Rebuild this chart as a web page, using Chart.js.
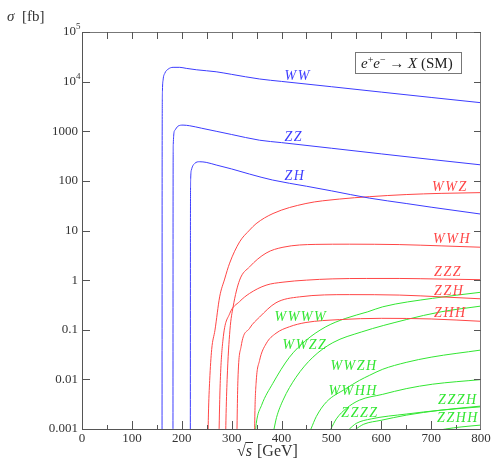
<!DOCTYPE html>
<html>
<head>
<meta charset="utf-8">
<script src="https://cdn.jsdelivr.net/npm/chart.js@4.4.1/dist/chart.umd.min.js"></script>
<style>
html, body { margin: 0; padding: 0; background: #fff; }
</style>
</head>
<body>
<canvas id="graficaSigma" width="492" height="461"></canvas>
<script>
// sqrt(s) in GeV, sigma in fb
const sqrtsWW  = [160.5, 160.7, 161.3, 162.6, 166, 172.6, 182.6, 196, 209, 230, 269, 300, 356, 400, 500, 600, 700, 800];
const sigmaWW  = [0.0005, 300, 6500, 10800, 14700, 17800, 19400, 19400, 18500, 17300, 15800, 14000, 11300, 10100, 7900, 6150, 4800, 3760];
const sqrtsZZ  = [182.4, 182.6, 183.0, 186, 192.6, 202.6, 216, 240, 269, 300, 356, 400, 500, 600, 700, 800];
const sigmaZZ  = [0.0005, 30, 550, 1040, 1270, 1330, 1290, 1150, 1000, 860, 660, 590, 455, 350, 270, 210];
const sqrtsZH  = [217.2, 217.4, 217.9, 219.4, 226, 236, 249, 269, 300, 336, 382, 450, 500, 576, 650, 700, 800];
const sigmaZH  = [0.0005, 10, 110, 166, 225, 243, 236, 209, 174, 137, 104, 78, 63, 45, 35, 29.5, 21.4];

const sqrtsWWZ = [252.4, 253.5, 256, 260, 266.6, 276, 286, 296, 316, 336, 349, 383, 449, 516, 576, 650, 720, 800];
const sigmaWWZ = [0.0005, 0.002, 0.0095, 0.04, 0.098, 0.46, 1.05, 2.2, 5.9, 10.2, 13.7, 22, 35, 43, 48, 53, 56, 58];
const sqrtsWWH = [287.8, 288.6, 291, 296.6, 303, 316, 336, 369, 403, 469, 536, 636, 720, 800];
const sigmaWWH = [0.0005, 0.0015, 0.01, 0.098, 0.29, 1.0, 1.85, 3.5, 4.6, 5.25, 5.3, 5.2, 4.9, 4.6];
const sqrtsZZZ = [274.4, 275.5, 277.3, 282.6, 296, 316, 336, 369, 403, 450, 503, 570, 636, 720, 800];
const sigmaZZZ = [0.0005, 0.002, 0.0095, 0.062, 0.21, 0.37, 0.54, 0.79, 0.91, 1.0, 1.06, 1.08, 1.08, 1.05, 1.02];
const sqrtsZZH = [310.4, 311.2, 312.6, 319, 336, 356, 389, 436, 536, 636, 720, 800];
const sigmaZZH = [0.0005, 0.002, 0.0096, 0.046, 0.107, 0.18, 0.35, 0.46, 0.51, 0.5, 0.46, 0.42];
const sqrtsZHH = [345.8, 346.6, 349, 356, 369, 389, 416, 449, 516, 600, 700, 800];
const sigmaZHH = [0.0005, 0.002, 0.0083, 0.024, 0.052, 0.085, 0.115, 0.14, 0.16, 0.17, 0.165, 0.148];

const sqrtsWWWW = [347.5, 349.4, 360, 382.6, 416, 449, 489, 529, 573, 603, 703, 800];
const sigmaWWWW = [0.0008, 0.0013, 0.003, 0.0083, 0.028, 0.061, 0.115, 0.17, 0.23, 0.29, 0.43, 0.57];
const sqrtsWWZZ = [385, 390, 403, 429, 463, 503, 560, 650, 720, 800];
const sigmaWWZZ = [0.001, 0.0017, 0.0038, 0.011, 0.028, 0.055, 0.09, 0.16, 0.23, 0.30];
const sqrtsWWZH = [459, 470, 490, 529, 556, 576, 603, 650, 700, 800];
const sigmaWWZH = [0.001, 0.0018, 0.0035, 0.0065, 0.0095, 0.012, 0.016, 0.022, 0.028, 0.039];
const sqrtsWWHH = [499, 510, 530, 556, 603, 650, 703, 800];
const sigmaWWHH = [0.001, 0.0016, 0.0026, 0.0038, 0.005, 0.0065, 0.008, 0.0099];
const sqrtsZZZZ = [536, 550, 580, 650, 720, 800];
const sigmaZZZZ = [0.001, 0.0013, 0.0016, 0.002, 0.0024, 0.0028];
const sqrtsZZZH = [549, 565, 600, 650, 720, 800];
const sigmaZZZH = [0.001, 0.00125, 0.0015, 0.0019, 0.0024, 0.0029];
const sqrtsZZHH = [650, 729, 760, 800];
const sigmaZZHH = [0.0007, 0.001, 0.0011, 0.0012];

const xTicks = [0, 100, 200, 300, 400, 500, 600, 700, 800];
const yTicks = [1e5, 1e4, 1000, 100, 10, 1, 0.1, 0.01, 0.001];
const yTickLabels = [['10', '5'], ['10', '4'], '1000', '100', '10', '1', '0.1', '0.01', '0.001'];

const azul = 'rgb(60,60,255)';
const rojo = 'rgb(255,70,70)';
const verde = 'rgb(50,230,50)';

// label anchors in data coordinates (left edge, vertical middle)
const etiquetas = [
  ['WW', 406, 13000, azul], ['ZZ', 406, 764, azul], ['ZH', 406, 125, azul],
  ['WWZ', 702, 75, rojo], ['WWH', 704, 6.7, rojo], ['ZZZ', 706, 1.45, rojo],
  ['ZZH', 706, 0.6, rojo], ['ZHH', 706, 0.216, rojo],
  ['WWWW', 386, 0.18, verde], ['WWZZ', 402, 0.049, verde], ['WWZH', 498, 0.0186, verde],
  ['WWHH', 494, 0.0058, verde], ['ZZZZ', 520, 0.0021, verde],
  ['ZZZH', 714, 0.0038, verde], ['ZZHH', 712, 0.00166, verde]
];

function serie(xs, ys, color) {
  return {
    data: xs.map((e, i) => ({ x: e, y: ys[i] })),
    borderColor: color,
    borderWidth: 1,
    pointRadius: 0,
    fill: false,
    cubicInterpolationMode: 'monotone',
    capBezierPoints: false
  };
}

const decoraciones = {
  id: 'decoraciones',
  afterDatasetsDraw(chart) {
    const ctx = chart.ctx;
    const a = chart.chartArea;
    const x = chart.scales.x;
    const y = chart.scales.y;
    ctx.save();

    // frame
    ctx.lineWidth = 1;
    ctx.strokeStyle = '#555';
    ctx.beginPath();
    ctx.moveTo(a.left + 0.5, a.top);
    ctx.lineTo(a.left + 0.5, a.bottom + 0.5);
    ctx.lineTo(a.right, a.bottom + 0.5);
    ctx.stroke();
    ctx.strokeStyle = '#777';
    ctx.beginPath();
    ctx.moveTo(a.left, a.top + 0.5);
    ctx.lineTo(a.right - 0.5, a.top + 0.5);
    ctx.lineTo(a.right - 0.5, a.bottom);
    ctx.stroke();

    // x ticks every 50, labels every 100
    ctx.strokeStyle = '#555';
    ctx.beginPath();
    for (let v = 50; v < 800; v += 50) {
      const px = Math.round(x.getPixelForValue(v)) + 0.5;
      const big = v % 100 === 0;
      ctx.moveTo(px, a.bottom);
      ctx.lineTo(px, a.bottom - (big ? 8 : 4));
      ctx.moveTo(px, a.top);
      ctx.lineTo(px, a.top + 7);
    }
    yTicks.forEach(v => {
      const py = Math.round(y.getPixelForValue(v)) + 0.5;
      ctx.moveTo(a.left, py);
      ctx.lineTo(a.left + 8, py);
      ctx.moveTo(a.right, py);
      ctx.lineTo(a.right - 7, py);
    });
    ctx.stroke();

    ctx.fillStyle = '#333';
    ctx.font = '13px "Liberation Serif"';
    ctx.textAlign = 'center';
    ctx.textBaseline = 'alphabetic';
    xTicks.forEach(v => {
      ctx.fillText(String(v), x.getPixelForValue(v), a.bottom + 13);
    });

    ctx.textBaseline = 'middle';
    yTicks.forEach((v, i) => {
      const py = y.getPixelForValue(v);
      const lab = yTickLabels[i];
      if (Array.isArray(lab)) {
        ctx.font = '13px "Liberation Serif"';
        ctx.textAlign = 'right';
        ctx.fillText(lab[0], a.left - 6, py);
        ctx.font = '9px "Liberation Serif"';
        ctx.textAlign = 'left';
        ctx.fillText(lab[1], a.left - 6, py - 5);
      } else {
        ctx.font = '13px "Liberation Serif"';
        ctx.textAlign = 'right';
        ctx.fillText(lab, a.left - 4, py);
      }
    });

    // axis titles
    ctx.textAlign = 'left';
    ctx.textBaseline = 'alphabetic';
    ctx.font = 'italic 15px "Liberation Serif"';
    ctx.fillText('σ', 7, 21);
    ctx.font = '15px "Liberation Serif"';
    ctx.fillText('[fb]', 22, 21);

    let cx = 237;
    const by = 456;
    ctx.font = '16px "Liberation Serif"';
    ctx.fillText('√', cx, by);
    cx += ctx.measureText('√').width;
    ctx.font = 'italic 16px "Liberation Serif"';
    const sx = cx;
    ctx.fillText('s', cx, by);
    cx += ctx.measureText('s').width + 1;
    ctx.beginPath();
    ctx.strokeStyle = '#333';
    ctx.moveTo(sx - 0.5, by - 13.5);
    ctx.lineTo(cx, by - 13.5);
    ctx.stroke();
    ctx.font = '16px "Liberation Serif"';
    ctx.fillText(' [GeV]', cx, by);

    // process box
    ctx.strokeStyle = '#777';
    ctx.strokeRect(355.5, 52.5, 106, 21);
    ctx.fillStyle = '#222';
    let lx = 361;
    const ly = 67.5;
    const partes = [
      ['e', 'italic 15px "Liberation Serif"', 0],
      ['+', '10px "Liberation Serif"', -5],
      ['e', 'italic 15px "Liberation Serif"', 0],
      ['−', '10px "Liberation Serif"', -5],
      [' → ', '15px "Liberation Serif"', 0],
      ['X', 'italic 15px "Liberation Serif"', 0],
      [' (SM)', '15px "Liberation Serif"', 0]
    ];
    partes.forEach(p => {
      ctx.font = p[1];
      ctx.fillText(p[0], lx, ly + p[2]);
      lx += ctx.measureText(p[0]).width;
    });

    // curve labels
    ctx.font = 'italic 14px "Liberation Serif"';
    ctx.textBaseline = 'middle';
    ctx.letterSpacing = '1.5px';
    etiquetas.forEach(t => {
      ctx.fillStyle = t[3];
      ctx.fillText(t[0], x.getPixelForValue(t[1]), y.getPixelForValue(t[2]));
    });
    ctx.restore();
  }
};

const ctx = document.getElementById('graficaSigma').getContext('2d');

const grafica = new Chart(ctx, {
  type: 'line',
  data: {
    datasets: [
      serie(sqrtsWW, sigmaWW, azul),
      serie(sqrtsZZ, sigmaZZ, azul),
      serie(sqrtsZH, sigmaZH, azul),
      serie(sqrtsWWZ, sigmaWWZ, rojo),
      serie(sqrtsWWH, sigmaWWH, rojo),
      serie(sqrtsZZZ, sigmaZZZ, rojo),
      serie(sqrtsZZH, sigmaZZH, rojo),
      serie(sqrtsZHH, sigmaZHH, rojo),
      serie(sqrtsWWWW, sigmaWWWW, verde),
      serie(sqrtsWWZZ, sigmaWWZZ, verde),
      serie(sqrtsWWZH, sigmaWWZH, verde),
      serie(sqrtsWWHH, sigmaWWHH, verde),
      serie(sqrtsZZZZ, sigmaZZZZ, verde),
      serie(sqrtsZZZH, sigmaZZZH, verde),
      serie(sqrtsZZHH, sigmaZZHH, verde)
    ]
  },
  options: {
    responsive: false,
    animation: false,
    layout: { padding: { left: 82, right: 11, top: 32, bottom: 32 } },
    plugins: { legend: { display: false }, tooltip: { enabled: false } },
    scales: {
      x: { type: 'linear', display: false, min: 0, max: 800 },
      y: { type: 'logarithmic', display: false, min: 0.001, max: 1e5 }
    }
  },
  plugins: [decoraciones]
});
</script>
</body>
</html>
